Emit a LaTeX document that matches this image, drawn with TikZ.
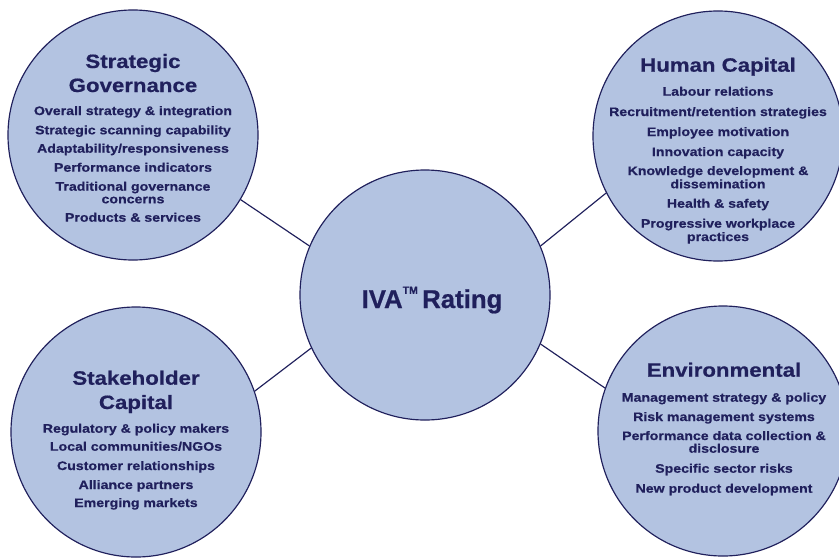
\documentclass[tikz,border=0pt]{standalone}
\usepackage{fontspec}
\setmainfont{Liberation Sans}[FakeBold=0.6]
\newfontfamily\widefont[FakeStretch=1.15,FakeBold=0.6]{Liberation Sans}
\definecolor{ivafill}{RGB}{179,195,225}
\definecolor{ivanavy}{RGB}{32,32,92}

\begin{document}
\begin{tikzpicture}[x=0.03cm,y=-0.03cm]
\tikzstyle{every node}+=[inner sep=0pt]
\tikzstyle{bubble}=[circle,draw=ivanavy,fill=ivafill,line width=1pt,minimum size=7.5cm]
\tikzstyle{head}=[anchor=base,text=ivanavy,font=\widefont\bfseries\fontsize{16.5}{18}\selectfont]
\tikzstyle{item}=[anchor=base,text=ivanavy,font=\widefont\bfseries\fontsize{10.5}{12}\selectfont]
\useasboundingbox (0,0) rectangle (839,557);
\node [bubble] (sg) at (133,135) {};
\node [bubble] (hc) at (718,136) {};
\node [bubble] (sc) at (136,432) {};
\node [bubble] (env) at (723,431) {};
\node [bubble] (iva) at (425,295) {};
\draw [ivanavy,line width=1pt] (iva.157) -- (sg.-31);
\draw [ivanavy,line width=1pt] (iva.23.5) -- (hc.207.6);
\draw [ivanavy,line width=1pt] (iva.205.6) -- (sc.19.4);
\draw [ivanavy,line width=1pt] (iva.337.4) -- (env.160.8);
\node [anchor=base,text=ivanavy,font=\bfseries\fontsize{22}{24}\selectfont] (ivatext) at (432,308) {IVA\raisebox{0.55em}{\fontsize{9}{9}\selectfont TM}\,Rating};
\node [head] (sgt1) at (133,68) {Strategic};
\node [head] (sgt2) at (133,92) {Governance};
\node [item] (sg1) at (133,115) {Overall strategy \& integration};
\node [item] (sg2) at (133,134.3) {Strategic scanning capability};
\node [item] (sg3) at (133,152.7) {Adaptability/responsiveness};
\node [item] (sg4) at (133,171.7) {Performance indicators};
\node [item] (sg5) at (133,190.7) {Traditional governance};
\node [item] (sg6) at (133,203.3) {concerns};
\node [item] (sg7) at (133,221.7) {Products \& services};
\node [head] (hct1) at (718,71.7) {Human Capital};
\node [item] (hc1) at (718,95.7) {Labour relations};
\node [item] (hc2) at (718,116) {Recruitment/retention strategies};
\node [item] (hc3) at (718,136) {Employee motivation};
\node [item] (hc4) at (718,156) {Innovation capacity};
\node [item] (hc5) at (718,175) {Knowledge development \&};
\node [item] (hc6) at (718,188.3) {dissemination};
\node [item] (hc7) at (718,207.7) {Health \& safety};
\node [item] (hc8) at (718,227.7) {Progressive workplace};
\node [item] (hc9) at (718,241) {practices};
\node [head] (sct1) at (136,384.7) {Stakeholder};
\node [head] (sct2) at (136,409) {Capital};
\node [item] (sc1) at (136,432.7) {Regulatory \& policy makers};
\node [item] (sc2) at (136,450.7) {Local communities/NGOs};
\node [item] (sc3) at (136,470) {Customer relationships};
\node [item] (sc4) at (136,489) {Alliance partners};
\node [item] (sc5) at (136,507) {Emerging markets};
\node [head] (envt1) at (724,376.7) {Environmental};
\node [item] (env1) at (724,401.7) {Management strategy \& policy};
\node [item] (env2) at (724,421) {Risk management systems};
\node [item] (env3) at (724,440) {Performance data collection \&};
\node [item] (env4) at (724,452.7) {disclosure};
\node [item] (env5) at (724,472.7) {Specific sector risks};
\node [item] (env6) at (724,492.7) {New product development};
\end{tikzpicture}
\end{document}
